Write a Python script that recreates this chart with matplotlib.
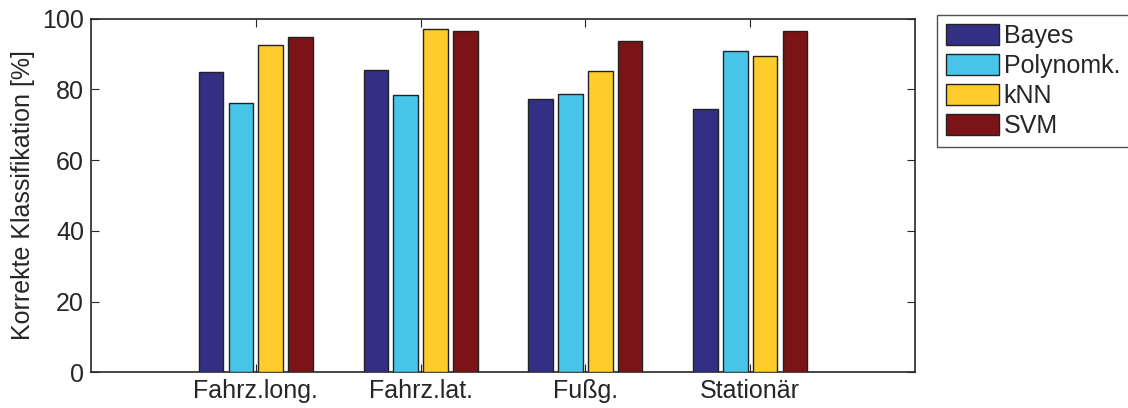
import matplotlib
matplotlib.use("Agg")
import matplotlib.pyplot as plt
import numpy as np

plt.rcParams['font.family'] = ['Liberation Sans', 'DejaVu Sans']
plt.rcParams['text.color'] = '#262626'
plt.rcParams['xtick.labelcolor'] = '#262626'
plt.rcParams['ytick.labelcolor'] = '#262626'
plt.rcParams['axes.labelcolor'] = '#262626'

categories = ["Fahrz.long.", "Fahrz.lat.", "Fußg.", "Stationär"]
methods = ["Bayes", "Polynomk.", "kNN", "SVM"]
bayes = [84.8, 85.4, 77.2, 74.4]
polynomk = [76.1, 78.3, 78.6, 90.8]
knn = [92.5, 97.1, 85.2, 89.5]
svm = [94.7, 96.6, 93.6, 96.5]
yticks = [0, 20, 40, 60, 80, 100]

series = [bayes, polynomk, knn, svm]
colors = ["#332F85", "#47C5E8", "#FFCD2B", "#7A1417"]

fig = plt.figure(figsize=(11.28, 4.08), dpi=100)
ax = fig.add_axes([91/1128, 1 - 372.3/408, (915 - 91)/1128, (372.3 - 18.7)/408])

x = np.arange(1, len(categories) + 1)
step = 0.181
width = 0.149
for i, (vals, name, col) in enumerate(zip(series, methods, colors)):
    ax.bar(x + (i - 1.5) * step, vals, width=width, color=col,
           edgecolor="#222222", linewidth=1.0, label=name, zorder=3)

fs = 18
ax.set_xlim(0, 5)
ax.set_ylim(0, 100)
ax.set_xticks(x)
ax.set_xticklabels(categories, fontsize=fs)
ax.set_yticks(yticks)
ax.set_yticklabels([str(v) for v in yticks], fontsize=fs)
ax.set_ylabel("Korrekte Klassifikation [%]", fontsize=fs, labelpad=5)
ax.tick_params(direction="in", length=6, width=0.8, top=True, right=True, pad=5,
               color="#262626")
for s in ax.spines.values():
    s.set_linewidth(1.2)
    s.set_color("#262626")

fig.legend(loc="upper left", bbox_to_anchor=(937/1128, 1 - 15/408),
           fontsize=fs, frameon=True, fancybox=False, edgecolor="#262626",
           handlelength=2.12, handleheight=0.92, handletextpad=0.2,
           labelspacing=0.24, borderpad=0.35, borderaxespad=0)

fig.savefig("out.png", dpi=100)
